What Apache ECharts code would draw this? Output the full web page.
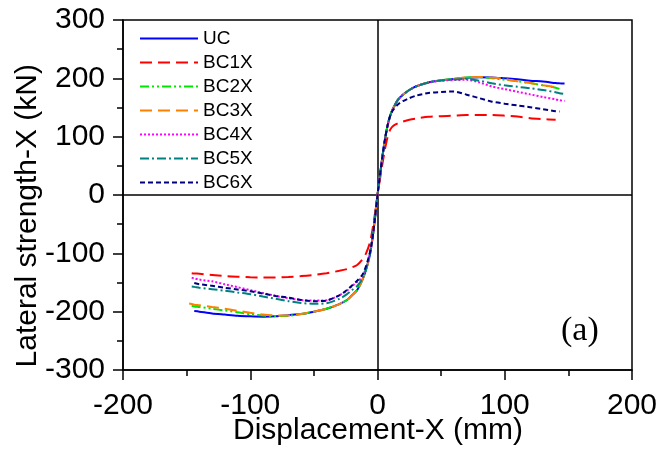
<!DOCTYPE html>
<html>
<head>
<meta charset="utf-8">
<script src="https://cdn.jsdelivr.net/npm/echarts@6/dist/echarts.min.js"></script>
<style>
  html, body { margin: 0; padding: 0; background: #fff; }
  #chart { width: 662px; height: 450px; }
</style>
</head>
<body>
<div id="chart"></div>
<script>
// Displacement grid (mm) shared by every specimen curve
const disp = [-148, -146, -144, -140, -130, -120, -110, -100, -90, -80, -70, -60, -50, -40, -30, -24, -20, -16, -12, -9, -6, -4, -2,
  0, 2, 4, 6, 8, 10, 12, 16, 20, 25, 30, 40, 50, 60, 70, 80, 90, 100, 110, 120, 130, 140, 143, 147];

// Lateral strength (kN) per specimen; null = outside the tested range
const UC = [null, null, -199, -200, -203, -205, -207, -208, -208.5, -208, -206, -204, -200, -195, -187, -180, -172, -163, -146, -128, -103, -75, -40,
  0, 35, 68, 97, 120, 136, 147, 163, 172, 180, 186, 193, 196.5, 199, 201, 202, 201.5, 200, 198.5, 196, 194.5, 192, 191.5, 191];
const BC1X = [null, -134, -134.5, -135, -137, -139, -140, -141, -141.5, -141.5, -140.5, -139, -137, -134, -130, -127, -124, -120, -111, -100, -82, -60, -32,
  0, 28, 55, 80, 100, 112, 118, 123, 126, 129, 131, 134, 135, 136, 137, 137, 137, 136, 134.5, 131.5, 130, 129, null, null];
const BC2X = [null, -190, -191, -192, -195, -198, -201, -204.5, -206.5, -207.5, -207, -204, -200, -195, -187, -180, -172, -163, -146, -128, -103, -75, -40,
  0, 35, 68, 97, 120, 136, 147, 163, 172, 180, 186, 193, 196.5, 199, 201.5, 202, 200, 197.5, 195, 192, 188, 184, 182, null];
const BC3X = [-186, -187, -188, -189, -192, -195, -198.5, -202, -205, -206.5, -206.5, -204, -200, -195, -187, -180, -172, -163, -146, -128, -103, -75, -40,
  0, 35, 68, 97, 120, 136, 147, 163, 172, 180, 186, 193, 196.5, 199, 201.5, 202.5, 201, 199, 195, 192, 188, 185, null, null];
const BC4X = [null, -142, -143, -145, -148, -153, -158, -163, -168, -173, -177, -180, -181, -180.5, -172, -164, -156, -149, -140, -125, -100, -75, -40,
  0, 35, 68, 97, 120, 136, 147, 163, 172, 180, 186, 192.5, 196, 197, 197.5, 193, 186, 181.5, 177, 172.5, 168, 164, 162.5, 161];
const BC5X = [null, -157, -157.5, -159, -161.5, -164, -167, -170, -174, -178, -182, -185, -186.5, -185.5, -178, -170, -163, -156, -144, -127, -102, -75, -40,
  0, 35, 68, 97, 120, 136, 147, 163, 172, 180, 186, 193, 196.5, 198, 199, 196, 191.5, 188, 185.5, 183, 180, 176, 174.5, 173];
const BC6X = [null, null, -151, -153, -155.5, -159, -162, -165, -169, -173, -176, -180, -182, -181, -172, -163, -155, -147, -137, -122, -99, -75, -40,
  0, 35, 68, 97, 120, 136, 145, 155, 161, 166, 170, 175, 176.5, 177.5, 172, 166, 160, 156.5, 153.5, 150.5, 147, 143.5, 143, null];

const seriesNames = ['UC', 'BC1X', 'BC2X', 'BC3X', 'BC4X', 'BC5X', 'BC6X'];
const seriesValues = [UC, BC1X, BC2X, BC3X, BC4X, BC5X, BC6X];

// Axis ticks
const xTicks = { min: -200, max: 200, step: 100 };
const yTicks = { min: -300, max: 300, step: 100 };

const styles = [
  { color: '#0000ff', type: 'solid' },
  { color: '#ff0000', type: [12, 6] },
  { color: '#00e600', type: [9, 3, 2, 3, 2, 3] },
  { color: '#ff8000', type: [12, 6] },
  { color: '#ff00ff', type: [2, 2] },
  { color: '#008080', type: [9, 3, 2, 3] },
  { color: '#000080', type: [5, 3] }
];

const FONT = 'Liberation Sans, Arial, sans-serif';

function pairs(vals) {
  const out = [];
  vals.forEach((v, i) => { if (v !== null) out.push([disp[i], v]); });
  return out;
}

const series = seriesNames.map((name, i) => ({
  name: name,
  type: 'line',
  data: pairs(seriesValues[i]),
  symbol: 'none',
  smooth: 0.25,
  z: 3,
  lineStyle: { color: styles[i].color, width: 2, type: styles[i].type },
  itemStyle: { color: styles[i].color }
}));

// Zero reference lines through the origin
series[0].markLine = {
  silent: true,
  symbol: 'none',
  label: { show: false },
  z: 1,
  lineStyle: { color: '#000', width: 1.5, type: 'solid' },
  data: [{ xAxis: 0 }, { yAxis: 0 }]
};

const axisCommon = {
  type: 'value',
  splitLine: { show: false },
  axisLine: { show: true, onZero: false, lineStyle: { color: '#000', width: 1.5 } },
  axisTick: { show: true, inside: false, length: 10, lineStyle: { color: '#000', width: 1.5 } },
  minorTick: { show: true, splitNumber: 2, length: 6, lineStyle: { color: '#000', width: 1.5 } },
  axisLabel: { color: '#000', fontSize: 30, fontFamily: FONT }
};

const chart = echarts.init(document.getElementById('chart'), null, { renderer: 'canvas' });
chart.setOption({
  animation: false,
  backgroundColor: '#fff',
  grid: {
    left: 123, right: 30, top: 20, bottom: 80,
    outerBoundsMode: 'none', containLabel: false,
    show: true, borderColor: '#000', borderWidth: 1.5, backgroundColor: 'transparent'
  },
  xAxis: Object.assign({}, axisCommon, {
    min: xTicks.min, max: xTicks.max, interval: xTicks.step,
    axisLabel: Object.assign({}, axisCommon.axisLabel, { margin: 21 })
  }),
  yAxis: Object.assign({}, axisCommon, {
    min: yTicks.min, max: yTicks.max, interval: yTicks.step,
    axisLabel: Object.assign({}, axisCommon.axisLabel, { margin: 18 })
  }),
  legend: {
    orient: 'vertical',
    left: 134, top: 24,
    itemWidth: 58, itemHeight: 14, itemGap: 5,
    itemStyle: { opacity: 0 },
    textStyle: { color: '#000', fontSize: 19, lineHeight: 16, fontFamily: FONT },
    data: seriesNames
  },
  graphic: [
    {
      type: 'text', left: 13, top: 64, rotation: Math.PI / 2,
      style: { text: 'Lateral strength-X (kN)', fill: '#000', fontSize: 30, fontFamily: FONT }
    },
    {
      type: 'text', x: 378, y: 416,
      style: { text: 'Displacement-X (mm)', fill: '#000', fontSize: 30, fontFamily: FONT, align: 'center', verticalAlign: 'top' }
    },
    {
      type: 'text', left: 561, top: 314,
      style: { text: '(a)', fill: '#000', fontSize: 34, fontFamily: 'Liberation Serif, Times New Roman, serif' }
    }
  ],
  series: series
});
</script>
</body>
</html>
